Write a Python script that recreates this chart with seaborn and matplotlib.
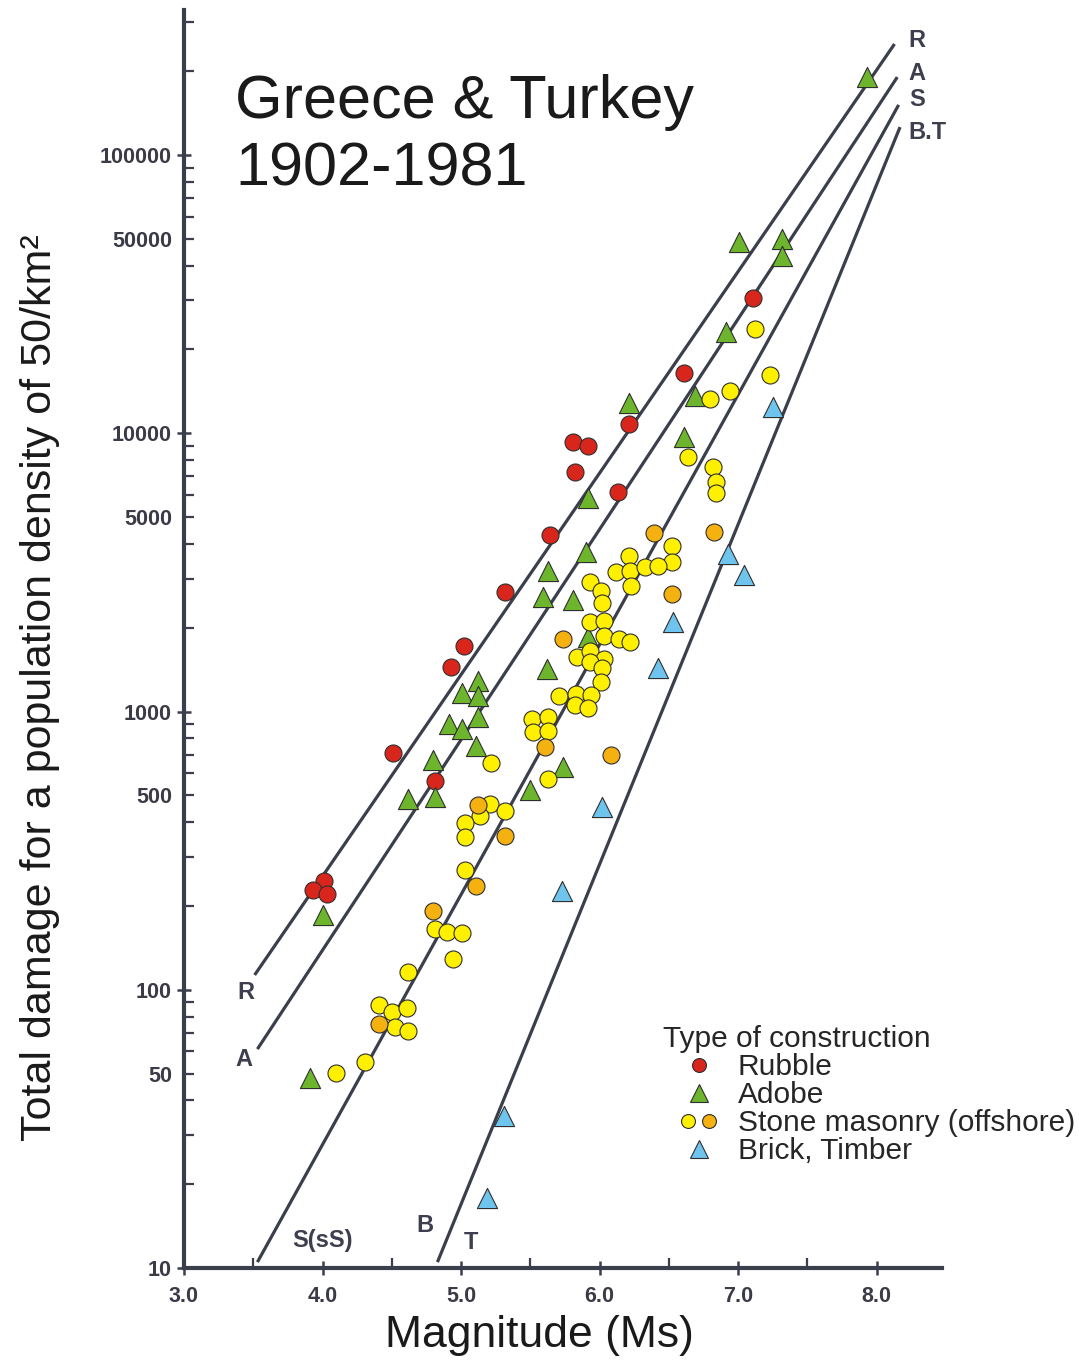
import pandas as pd
import matplotlib
matplotlib.use('Agg')
import matplotlib.pyplot as plt
import seaborn as sns
from matplotlib.lines import Line2D
from matplotlib.legend_handler import HandlerTuple

sns.set_style('ticks')
plt.rcParams['font.family'] = ['Liberation Sans', 'DejaVu Sans']

# --- data (magnitude Ms, total damage) ---
rubble_mag = [6.21, 5.81, 5.92, 5.82, 6.13, 5.64, 5.32, 5.02, 4.93, 4.51, 4.81,
              4.01, 3.93, 4.03, 6.61, 7.11]
rubble_dmg = [10800, 9320, 9000, 7260, 6150, 4300, 2690, 1720, 1445, 710, 563,
              246, 228, 221, 16500, 30600]

adobe_mag = [7.93, 7.01, 7.32, 7.32, 6.91, 6.21, 6.69, 6.61, 5.92, 5.90, 5.63,
             5.59, 5.81, 5.92, 5.62, 5.12, 5.01, 5.12, 5.12, 4.91, 5.01, 5.11,
             4.80, 5.74, 5.50, 4.62, 4.81, 4.00, 3.91]
adobe_dmg = [190500, 48600, 49900, 43400, 23100, 12850, 13600, 9710, 5850, 3740,
             3200, 2580, 2520, 1855, 1420, 1290, 1165, 1140, 955, 902, 865, 751,
             670, 632, 522, 485, 493, 186, 48.2]

stone_mag = [7.12, 7.23, 6.94, 6.80, 6.64, 6.82, 6.84, 6.84, 6.52, 6.52, 6.21,
             6.12, 6.22, 6.33, 6.42, 6.23, 5.93, 6.01, 6.02, 5.93, 6.03, 6.03,
             6.14, 6.22, 5.84, 5.93, 6.03, 5.93, 6.02, 6.01, 5.71, 5.83, 5.94,
             5.82, 5.92, 5.51, 5.63, 5.52, 5.63, 5.22, 5.63, 5.21, 5.14, 5.32,
             5.03, 5.03, 5.03, 4.81, 4.90, 5.01, 4.94, 4.62, 4.41, 4.50, 4.61,
             4.52, 4.62, 4.31, 4.10]
stone_dmg = [23700, 16200, 14200, 13300, 8220, 7570, 6680, 6100, 3940, 3440, 3620,
             3170, 3200, 3300, 3330, 2820, 2920, 2710, 2455, 2100, 2115, 1867,
             1823, 1780, 1570, 1650, 1545, 1507, 1432, 1276, 1137, 1156, 1147,
             1055, 1030, 940, 955, 844, 851, 653, 572, 466, 421, 439,
             397, 354, 269, 165, 161, 160, 129, 116, 88.1, 83.2, 85.9,
             73.4, 71.1, 55.0, 50.2]

offshore_mag = [6.39, 6.83, 6.52, 5.74, 5.61, 6.08, 5.12, 5.32, 5.11, 4.80, 4.41]
offshore_dmg = [4390, 4420, 2640, 1823, 745, 698, 462, 357, 236, 192, 75.3]

brick_mag = [7.25, 6.93, 7.04, 6.53, 6.42, 6.02, 5.73, 5.31, 5.19]
brick_dmg = [12400, 3680, 3100, 2100, 1432, 454, 226, 35.2, 17.9]

# fitted lines (end points)
line_names = ['R', 'A', 'S', 'B,T']
line_mag = {'R': [3.51, 8.13], 'A': [3.53, 8.15], 'S': [3.53, 8.16], 'B,T': [4.83, 8.17]}
line_dmg = {'R': [113, 250600], 'A': [61.2, 190500], 'S': [10.5, 151400], 'B,T': [10.5, 126000]}

x_major = [3, 4, 5, 6, 7, 8]
x_labels = ['3.0', '4.0', '5.0', '6.0', '7.0', '8.0']
x_minor = [3.5, 4.5, 5.5, 6.5, 7.5]
y_major = [10, 100, 1000, 10000, 100000]
y_major_labels = ['10', '100', '1000', '10000', '100000']
y_minor = [m * 10 ** k for k in range(1, 6) for m in range(2, 10) if m * 10 ** k < 330000]
y_minor_labels = [('%d' % v) if str(int(v)).startswith('5') else '' for v in y_minor]

legend_labels = ['Rubble', 'Adobe', 'Stone masonry (offshore)', 'Brick, Timber']

# colours
red = '#d9261c'
green = '#6db52d'
yellow = '#fff000'
orange = '#f5b10f'
blue = '#6ec4ec'
edge = '#2e2e2e'
axc = '#3b3f4c'

df = pd.concat([
    pd.DataFrame({'mag': rubble_mag, 'dmg': rubble_dmg, 'kind': 'rubble'}),
    pd.DataFrame({'mag': adobe_mag, 'dmg': adobe_dmg, 'kind': 'adobe'}),
    pd.DataFrame({'mag': stone_mag, 'dmg': stone_dmg, 'kind': 'stone'}),
    pd.DataFrame({'mag': offshore_mag, 'dmg': offshore_dmg, 'kind': 'offshore'}),
    pd.DataFrame({'mag': brick_mag, 'dmg': brick_dmg, 'kind': 'brick'}),
])

fig = plt.figure(figsize=(10.79, 13.61), dpi=100)
ax = fig.add_axes([184 / 1079, 93 / 1361, (941.6 - 184) / 1079, 1258 / 1361])

for nm in line_names:
    ax.plot(line_mag[nm], line_dmg[nm], color=axc, lw=2.3, solid_capstyle='butt', zorder=2)

styles = {'rubble': (red, 'o', 150), 'adobe': (green, '^', 210),
          'stone': (yellow, 'o', 150), 'offshore': (orange, 'o', 150),
          'brick': (blue, '^', 210)}
for kind, (col, mk, size) in styles.items():
    sns.scatterplot(data=df[df['kind'] == kind], x='mag', y='dmg', color=col, marker=mk,
                    s=size, edgecolor=edge, linewidth=0.8, ax=ax, legend=False, zorder=3)

ax.set_yscale('log')
ax.set_xlabel('')
ax.set_ylabel('')

sns.despine(ax=ax)
for sp in ['left', 'bottom']:
    ax.spines[sp].set_linewidth(3)
    ax.spines[sp].set_color(axc)

ax.set_xticks(x_major, labels=x_labels)
ax.set_xticks(x_minor, minor=True)
ax.set_yticks(y_major, labels=y_major_labels)
ax.set_yticks(y_minor, labels=y_minor_labels, minor=True)
ax.set_xlim(3.0, 8.47)
ax.set_ylim(10, 332000)
ax.tick_params(which='major', direction='inout', length=10, width=1.8, color=axc,
               labelsize=15.5, labelcolor='#3b3b48')
ax.tick_params(axis='y', which='major', pad=3.6)
ax.tick_params(axis='x', which='major', pad=8)
ax.tick_params(which='minor', direction='in', length=7, width=1.6, color=axc,
               labelsize=15.5, labelcolor='#3b3b48')
ax.tick_params(axis='y', which='minor', pad=8.6)
for lab in ax.get_xticklabels() + ax.get_yticklabels() + ax.get_yticklabels(minor=True):
    lab.set_fontweight('bold')

# line labels
lab_kw = dict(fontsize=17, fontweight='bold', color='#3d3f4e', ha='center', va='center')
ax.text(3.45, 98, 'R', **lab_kw)
ax.text(3.43, 56, 'A', **lab_kw)
ax.text(4.00, 12.6, 'S(sS)', **lab_kw)
ax.text(4.74, 14.2, 'B', **lab_kw)
ax.text(5.07, 12.4, 'T', **lab_kw)
ax.text(8.29, 259000, 'R', **lab_kw)
ax.text(8.29, 197000, 'A', **lab_kw)
ax.text(8.29, 158000, 'S', **lab_kw)
ax.text(8.37, 120000, 'B.T', **lab_kw)

# title and axis labels
fig.text(235 / 1079, 1 - 118 / 1361, 'Greece & Turkey', fontsize=44, va='baseline', color='#1a1a1a')
fig.text(235 / 1079, 1 - 185 / 1361, '1902-1981', fontsize=44, va='baseline', color='#1a1a1a')
fig.text(40 / 1079, 1 - 688 / 1361, 'Total damage for a population density of 50/km²',
         rotation=90, ha='center', va='center', fontsize=31, color='#1a1a1a')
fig.text(539 / 1079, 1 - 1335 / 1361, 'Magnitude (Ms)', ha='center', va='center',
         fontsize=32, color='#1a1a1a')

# legend
def mk_handle(col, mk, ms):
    return Line2D([], [], ls='none', marker=mk, ms=ms, mfc=col, mec=edge, mew=0.8)

handles = [mk_handle(red, 'o', 10), mk_handle(green, '^', 13),
           (mk_handle(yellow, 'o', 10), mk_handle(orange, 'o', 10)),
           mk_handle(blue, '^', 13)]
ax.legend(handles, legend_labels, title='Type of construction',
          handler_map={tuple: HandlerTuple(ndivide=None, pad=-1.0)},
          loc='upper left', bbox_to_anchor=(663 / 1079, 1 - 1025 / 1361),
          bbox_transform=fig.transFigure, frameon=False, borderpad=0, borderaxespad=0,
          fontsize=21.5, title_fontsize=21.5, alignment='left', handlelength=2.4,
          handletextpad=0.1, labelspacing=0.0)

fig.savefig('out.png', dpi=100)
